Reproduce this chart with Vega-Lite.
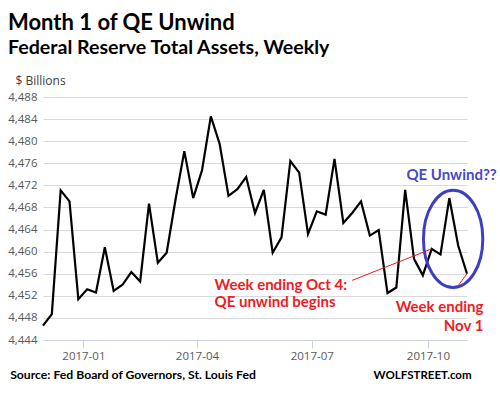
{
  "$schema": "https://vega.github.io/schema/vega-lite/v6.json",
  "width": 424,
  "height": 243,
  "autosize": "none",
  "padding": {"left": 43, "top": 97, "right": 33, "bottom": 56},
  "background": "white",
  "title": {
    "text": "Month 1 of QE Unwind",
    "subtitle": "Federal Reserve Total Assets, Weekly",
    "anchor": "start",
    "frame": "group",
    "dx": -35,
    "offset": 15,
    "font": "Lato",
    "fontSize": 22,
    "fontWeight": "bold",
    "color": "#000000",
    "subtitleFont": "Lato",
    "subtitleFontSize": 19.6,
    "subtitleFontWeight": "bold",
    "subtitleColor": "#000000",
    "subtitlePadding": 4
  },
  "config": {"view": {"stroke": null}},
  "datasets": {
    "assets": [
      {"date": "2016-11-30", "value": 4446.6},
      {"date": "2016-12-07", "value": 4448.7},
      {"date": "2016-12-14", "value": 4471.1},
      {"date": "2016-12-21", "value": 4469.1},
      {"date": "2016-12-28", "value": 4451.4},
      {"date": "2017-01-04", "value": 4453.2},
      {"date": "2017-01-11", "value": 4452.6},
      {"date": "2017-01-18", "value": 4460.8},
      {"date": "2017-01-25", "value": 4452.9},
      {"date": "2017-02-01", "value": 4454.0},
      {"date": "2017-02-08", "value": 4456.3},
      {"date": "2017-02-15", "value": 4454.6},
      {"date": "2017-02-22", "value": 4468.7},
      {"date": "2017-03-01", "value": 4458.0},
      {"date": "2017-03-08", "value": 4459.8},
      {"date": "2017-03-15", "value": 4469.4},
      {"date": "2017-03-22", "value": 4478.2},
      {"date": "2017-03-29", "value": 4469.7},
      {"date": "2017-04-05", "value": 4474.7},
      {"date": "2017-04-12", "value": 4484.5},
      {"date": "2017-04-19", "value": 4479.5},
      {"date": "2017-04-26", "value": 4470.1},
      {"date": "2017-05-03", "value": 4471.3},
      {"date": "2017-05-10", "value": 4473.5},
      {"date": "2017-05-17", "value": 4467.0},
      {"date": "2017-05-24", "value": 4471.2},
      {"date": "2017-05-31", "value": 4459.8},
      {"date": "2017-06-07", "value": 4462.6},
      {"date": "2017-06-14", "value": 4476.4},
      {"date": "2017-06-21", "value": 4474.3},
      {"date": "2017-06-28", "value": 4463.2},
      {"date": "2017-07-05", "value": 4467.3},
      {"date": "2017-07-12", "value": 4466.7},
      {"date": "2017-07-19", "value": 4476.8},
      {"date": "2017-07-26", "value": 4465.2},
      {"date": "2017-08-02", "value": 4467.0},
      {"date": "2017-08-09", "value": 4469.1},
      {"date": "2017-08-16", "value": 4462.9},
      {"date": "2017-08-23", "value": 4463.9},
      {"date": "2017-08-30", "value": 4452.5},
      {"date": "2017-09-06", "value": 4453.5},
      {"date": "2017-09-13", "value": 4471.2},
      {"date": "2017-09-20", "value": 4458.7},
      {"date": "2017-09-27", "value": 4455.7},
      {"date": "2017-10-04", "value": 4460.5},
      {"date": "2017-10-11", "value": 4459.5},
      {"date": "2017-10-18", "value": 4469.7},
      {"date": "2017-10-25", "value": 4461.1},
      {"date": "2017-11-01", "value": 4456.0}
    ],
    "pointers": [
      {"date": "2017-08-02", "value": 4454.8, "date2": "2017-10-04", "value2": 4460.5},
      {"date": "2017-10-24", "value": 4453.55, "date2": "2017-11-01", "value2": 4456.0}
    ],
    "redLeft": [
      {"date": "2017-04-15", "value": 4453.1, "text": "Week ending Oct 4:"},
      {"date": "2017-04-15", "value": 4449.9, "text": "QE unwind begins"}
    ],
    "redRight": [
      {"date": "2017-11-14", "value": 4449.0, "text": "Week ending"},
      {"date": "2017-11-14", "value": 4445.6, "text": "Nov 1"}
    ],
    "blueText": [
      {"date": "2017-09-14", "value": 4472.9, "text": "QE Unwind??"}
    ],
    "ellipse": [
      {"date": "2017-10-21", "value": 4462.3}
    ],
    "footLeft": [
      {"date": "2016-11-04", "value": 4437.0, "text": "Source: Fed Board of Governors, St. Louis Fed"}
    ],
    "footRight": [
      {"date": "2017-08-19", "value": 4437.0, "text": "WOLFSTREET.com"}
    ]
  },
  "encoding": {
    "x": {
      "field": "date",
      "type": "temporal",
      "scale": {"type": "utc", "domain": [{"year": 2016, "month": 11, "date": 30, "utc": true}, {"year": 2017, "month": 11, "date": 1, "utc": true}], "nice": false},
      "axis": {
        "title": null,
        "format": "%Y-%m",
        "values": [
          {"year": 2017, "month": 1, "date": 1, "utc": true},
          {"year": 2017, "month": 4, "date": 1, "utc": true},
          {"year": 2017, "month": 7, "date": 1, "utc": true},
          {"year": 2017, "month": 10, "date": 1, "utc": true}
        ],
        "grid": false,
        "domainColor": "#ccd3e0",
        "tickColor": "#ccd3e0",
        "tickSize": 8,
        "labelFont": "Open Sans",
        "labelFontSize": 11.5,
        "labelColor": "#595959",
        "labelPadding": 2
      }
    },
    "y": {
      "field": "value",
      "type": "quantitative",
      "scale": {"domain": [4444, 4488], "nice": false, "zero": false},
      "axis": {
        "title": "$ Billions",
        "titleAngle": 0,
        "titleAlign": "left",
        "titleBaseline": "alphabetic",
        "titleX": -28,
        "titleY": -13,
        "titleFont": "Open Sans",
        "titleFontSize": 12,
        "titleFontWeight": "normal",
        "titleColor": "#404040",
        "values": [4444, 4448, 4452, 4456, 4460, 4464, 4468, 4472, 4476, 4480, 4484, 4488],
        "format": ",d",
        "domain": false,
        "ticks": false,
        "gridColor": "#d9d9d9",
        "gridWidth": 1,
        "labelFont": "Open Sans",
        "labelFontSize": 11.5,
        "labelColor": "#595959",
        "labelPadding": 6
      }
    }
  },
  "layer": [
    {
      "data": {"name": "assets"},
      "mark": {"type": "line", "color": "#000000", "strokeWidth": 2.2}
    },
    {
      "data": {"name": "pointers"},
      "mark": {"type": "rule", "color": "#ee1c24", "strokeWidth": 1},
      "encoding": {"x2": {"field": "date2"}, "y2": {"field": "value2"}}
    },
    {
      "data": {"name": "ellipse"},
      "mark": {
        "type": "point",
        "shape": "M0.61,0 C0.61,0.5523 0.337,1 0,1 C-0.337,1 -0.61,0.5523 -0.61,0 C-0.61,-0.5523 -0.337,-1 0,-1 C0.337,-1 0.61,-0.5523 0.61,0 Z",
        "filled": false,
        "size": 9467,
        "stroke": "#3c3fc4",
        "strokeWidth": 3,
        "opacity": 1
      }
    },
    {
      "data": {"name": "redLeft"},
      "mark": {"type": "text", "align": "left", "baseline": "alphabetic", "font": "Lato", "fontWeight": "bold", "fontSize": 15, "color": "#ee1c24"},
      "encoding": {"text": {"field": "text"}}
    },
    {
      "data": {"name": "redRight"},
      "mark": {"type": "text", "align": "right", "baseline": "alphabetic", "font": "Lato", "fontWeight": "bold", "fontSize": 15, "color": "#ee1c24"},
      "encoding": {"text": {"field": "text"}}
    },
    {
      "data": {"name": "blueText"},
      "mark": {"type": "text", "align": "left", "baseline": "alphabetic", "font": "Lato", "fontWeight": "bold", "fontSize": 15, "color": "#4848c8"},
      "encoding": {"text": {"field": "text"}}
    },
    {
      "data": {"name": "footLeft"},
      "mark": {"type": "text", "align": "left", "baseline": "alphabetic", "font": "Lato", "fontWeight": "bold", "fontSize": 12.2, "color": "#000000"},
      "encoding": {"text": {"field": "text"}}
    },
    {
      "data": {"name": "footRight"},
      "mark": {"type": "text", "align": "left", "baseline": "alphabetic", "font": "Lato", "fontWeight": "bold", "fontSize": 11.5, "color": "#000000"},
      "encoding": {"text": {"field": "text"}}
    }
  ]
}
